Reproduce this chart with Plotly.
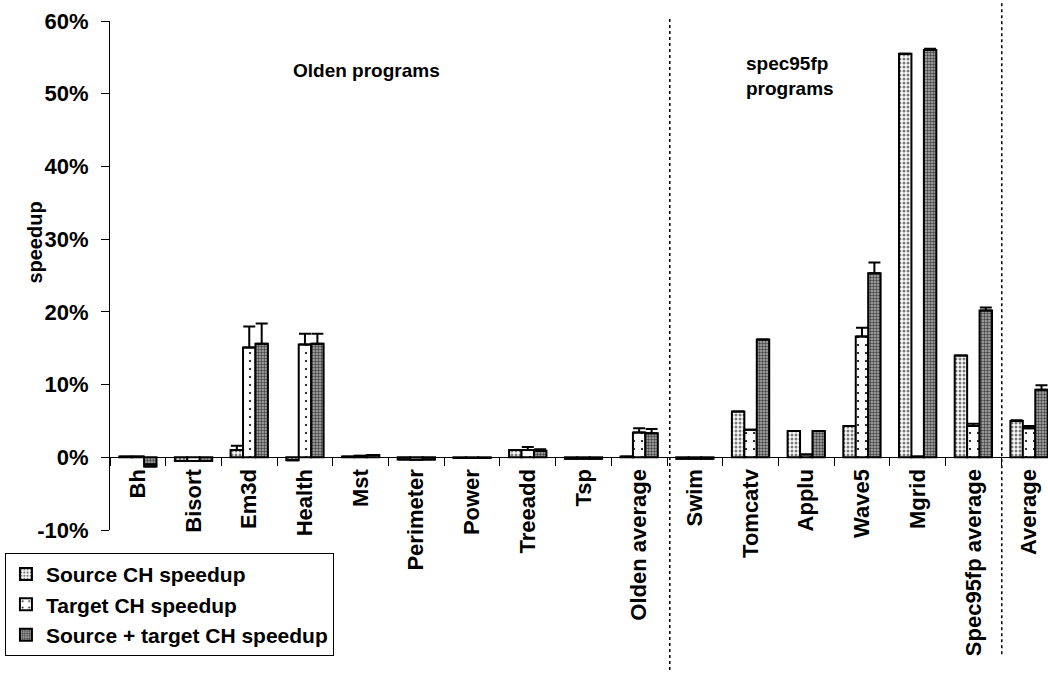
import plotly.graph_objects as go

categories = ["Bh", "Bisort", "Em3d", "Health", "Mst", "Perimeter", "Power", "Treeadd", "Tsp",
              "Olden average", "Swim", "Tomcatv", "Applu", "Wave5", "Mgrid", "Spec95fp average", "Average"]

source_vals = [0.1, -0.5, 1.0, -0.4, 0.1, -0.3, -0.1, 1.0, -0.2, 0.1, -0.2, 6.3, 3.6, 4.3, 55.5, 14.0, 5.0]
source_err = [0, 0, 0.6, 0, 0, 0, 0, 0, 0, 0, 0, 0, 0, 0, 0, 0, 0.1]
target_vals = [0.1, -0.5, 15.1, 15.5, 0.2, -0.35, -0.1, 1.0, -0.2, 3.4, -0.2, 3.8, 0.4, 16.6, 0.1, 4.3, 4.0]
target_err = [0, 0, 2.9, 1.5, 0, 0, 0, 0.4, 0, 0.6, 0, 0, 0, 1.2, 0, 0.3, 0.3]
both_vals = [-1.25, -0.5, 15.6, 15.6, 0.3, -0.3, -0.1, 0.9, -0.2, 3.3, -0.2, 16.2, 3.6, 25.3, 56.0, 20.2, 9.3]
both_err = [0.3, 0, 2.8, 1.4, 0, 0, 0, 0.2, 0, 0.6, 0, 0, 0, 1.5, 0.2, 0.4, 0.6]

series_names = ["Source CH speedup", "Target CH speedup", "Source + target CH speedup"]
y_ticks = [-10, 0, 10, 20, 30, 40, 50, 60]

FONT = "Arial, Liberation Sans, sans-serif"

patterns = [
    dict(shape=".", size=4, solidity=0.45, fgcolor="#7a7a7a", bgcolor="white", fillmode="replace"),
    dict(shape=".", size=8, solidity=0.06, fgcolor="black", bgcolor="white", fillmode="replace"),
    dict(shape=".", size=3, solidity=0.5, fgcolor="#444444", bgcolor="#b0b0b0", fillmode="replace"),
]

fig = go.Figure()
for name, vals, errs, pat in zip(series_names, [source_vals, target_vals, both_vals],
                                 [source_err, target_err, both_err], patterns):
    fig.add_trace(go.Bar(
        x=categories, y=vals, name=f"<b>{name}</b>",
        marker=dict(color="white", pattern=pat, line=dict(color="black", width=2)),
        error_y=dict(type="data", array=errs, arrayminus=[0] * len(errs), symmetric=False,
                     color="black", thickness=2, width=6),
    ))

fig.add_shape(type="line", xref="x", yref="paper", x0=9.55, x1=9.55, y0=1.004, y1=-0.29,
              line=dict(color="black", width=1.5, dash="dot"))
fig.add_shape(type="line", xref="x", yref="paper", x0=15.51, x1=15.51, y0=1.035, y1=-0.25,
              line=dict(color="black", width=1.5, dash="dot"))

fig.add_annotation(text="<b>Olden programs</b>", x=4.11, y=53.2, xref="x", yref="y",
                   showarrow=False, font=dict(size=19, color="black", family=FONT))
fig.add_annotation(text="<b>spec95fp<br>programs</b>", x=10.88, y=52.5, xref="x", yref="y",
                   xanchor="left", align="left", showarrow=False,
                   font=dict(size=19, color="black", family=FONT))
fig.add_annotation(text="<b>speedup</b>", x=-0.094, y=29.5, xref="paper", yref="y",
                   textangle=-90, showarrow=False, font=dict(size=20, color="black", family=FONT))

fig.update_layout(
    width=1048, height=673,
    margin=dict(l=110, r=0, t=21, b=143),
    paper_bgcolor="white", plot_bgcolor="white",
    barmode="group", bargap=0.33, bargroupgap=0,
    font=dict(family=FONT, color="black", size=22),
    showlegend=True,
    legend=dict(x=-0.112, y=-0.045, xanchor="left", yanchor="top",
                bordercolor="black", borderwidth=1, bgcolor="white",
                font=dict(size=21, family=FONT, color="black"),
                tracegroupgap=0, itemclick=False, itemwidth=30),
    xaxis=dict(type="category", range=[-0.5, 16.34], anchor="free", position=10 / 70,
               showline=True, linecolor="black", linewidth=1, ticks="outside", ticklen=8,
               tickcolor="black", tickson="boundaries", tickangle=-90, showgrid=False,
               tickfont=dict(size=22, family=FONT), ticklabelstandoff=2,
               tickprefix="<b>", ticksuffix="</b>", zeroline=False),
    yaxis=dict(range=[-10, 60], tickvals=y_ticks, ticktext=[f"<b>{v}%</b>" for v in y_ticks],
               showline=True, linecolor="black", linewidth=1, ticks="outside", ticklen=8,
               tickcolor="black", showgrid=False, zeroline=False,
               tickfont=dict(size=22, family=FONT), ticklabelstandoff=8),
)

fig.write_html("out.html", post_script="document.body.style.margin='0';",
               config={"displayModeBar": False})
